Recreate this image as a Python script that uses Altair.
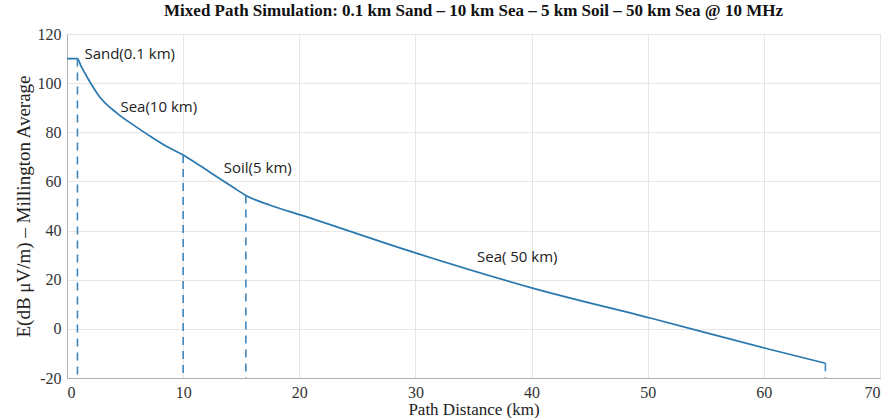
import altair as alt
import pandas as pd

# Curve (km, dB µV/m)
dist_km = [0, 0.9, 1.2, 1.7, 2.8, 4.3, 5.7, 7.2, 8.6, 10.0, 11.5, 12.9, 14.3, 15.4,
           17.5, 20.1, 30.0, 40.0, 50.3, 60.3, 65.3]
field_db = [110, 110, 107.0, 102.7, 94.5, 87.8, 83.0, 78.3, 74.2, 70.8, 66.3, 61.9, 57.6, 54.3,
            50.3, 46.4, 30.9, 16.7, 4.3, -8.1, -14.0]

# Segment boundaries (dashed markers)
boundary_km = [0.9, 10.0, 15.4, 65.3]
boundary_db = [110, 70.8, 54.3, -14.0]

# Segment labels
label_text = ["Sand(0.1 km)", "Sea(10 km)", "Soil(5 km)", "Sea( 50 km)"]
label_km = [1.5, 4.6, 13.5, 35.3]
label_db = [112.0, 90.4, 65.5, 29.3]

x_ticks = [0, 10, 20, 30, 40, 50, 60, 70]
y_ticks = [-20, 0, 20, 40, 60, 80, 100, 120]

curve = pd.DataFrame({"d": dist_km, "e": field_db})
bounds = pd.DataFrame({"d": boundary_km, "e": boundary_db})
labels = pd.DataFrame({"d": label_km, "e": label_db, "t": label_text})

LINE = "#2a78ae"
SERIF = "Liberation Serif"

x_scale = alt.Scale(domain=[0, 70], nice=False)
y_scale = alt.Scale(domain=[-20, 120], nice=False)

x_enc = alt.X("d:Q", scale=x_scale,
              axis=alt.Axis(values=x_ticks, title="Path Distance (km)", grid=True,
                            titleFontSize=17, titlePadding=1))
y_enc = alt.Y("e:Q", scale=y_scale,
              axis=alt.Axis(values=y_ticks, title="E(dB μV/m) – Millington Average", grid=True,
                            titleFontSize=19, titlePadding=4,
                            labelExpr="replace(datum.label, '−', '-')"))

line = alt.Chart(curve).mark_line(color=LINE, strokeWidth=1.7, interpolate="monotone").encode(
    x=x_enc, y=y_enc)

rules = alt.Chart(bounds).mark_rule(color="#3f86ba", strokeWidth=1.6, strokeDash=[8, 6]).encode(
    x="d:Q", y="e:Q", y2=alt.datum(-20)
)

texts = alt.Chart(labels).mark_text(
    align="left", baseline="middle", font="Open Sans", fontSize=15, color="#222222"
).encode(x="d:Q", y="e:Q", text="t:N")

chart = (
    alt.layer(line, rules, texts)
    .properties(
        width=813,
        height=344,
        autosize=alt.AutoSizeParams(type="none"),
        padding={"left": 67, "top": 34, "right": 13, "bottom": 40},
        title=alt.TitleParams(
            "Mixed Path Simulation: 0.1 km Sand – 10 km Sea – 5 km Soil – 50 km Sea @ 10 MHz",
            font=SERIF, fontSize=17, fontWeight="bold", color="#111111",
            anchor="middle", offset=6,
        ),
    )
    .configure_view(stroke="#b0b0b0", strokeWidth=1)
    .configure_axis(
        labelFont=SERIF, labelFontSize=16, labelColor="#333333",
        titleFont=SERIF, titleColor="#222222", titleFontWeight="normal",
        domainColor="#b0b0b0", ticks=False, gridColor="#e6e6e6", gridWidth=1,
        labelPadding=6,
    )
)

chart.save("out.html", embed_options={"renderer": "svg", "actions": False})
